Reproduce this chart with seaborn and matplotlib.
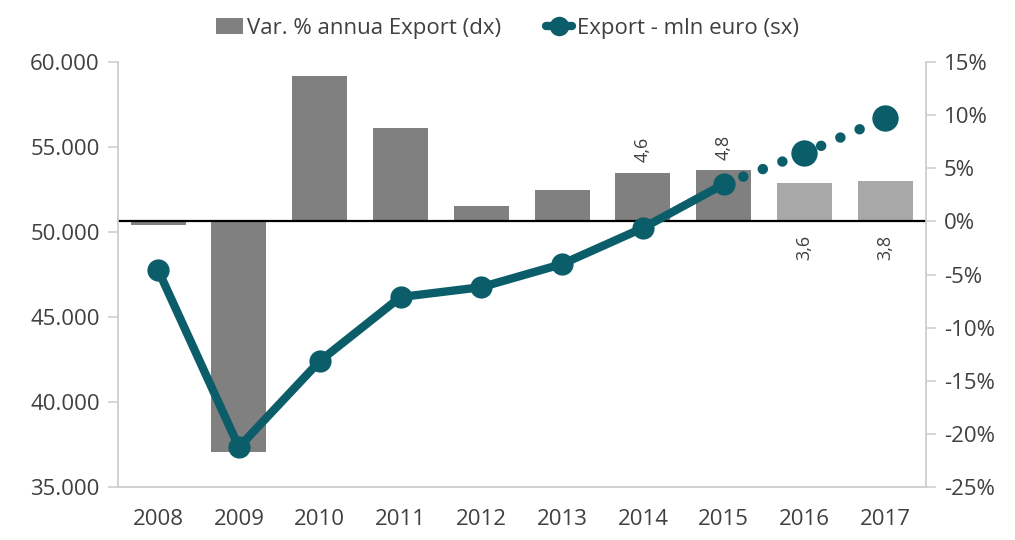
import numpy as np
import pandas as pd
import seaborn as sns
import matplotlib.pyplot as plt
from matplotlib.lines import Line2D
from matplotlib.patches import Patch
from matplotlib.ticker import FuncFormatter, FixedLocator

# data
years = ["2008", "2009", "2010", "2011", "2012", "2013", "2014", "2015", "2016", "2017"]
var_pct = [-0.3, -21.7, 13.7, 8.8, 1.5, 3.0, 4.6, 4.8, 3.6, 3.8]
export_mln = [47760, 37350, 42410, 46180, 46760, 48120, 50240, 52820, 54650, 56700]
is_forecast = [False] * 8 + [True] * 2
bar_labels = {6: "4,6", 7: "4,8", 8: "3,6", 9: "3,8"}

teal = "#0b5d69"
dark_gray = "#808080"
light_gray = "#a8a8a8"
txt = "#404040"

sns.set_theme(style="white")
plt.rcParams["font.family"] = ["Open Sans", "DejaVu Sans"]

df = pd.DataFrame({"year": years, "var": var_pct, "export": export_mln,
                   "forecast": is_forecast})
df["pos"] = np.arange(len(df))

fig = plt.figure(figsize=(10.15, 5.4), dpi=100)
ax = fig.add_axes([0.116, 0.098, 0.796, 0.787])
ax2 = ax.twinx()

# bars on right axis
bar_colors = [light_gray if f else dark_gray for f in is_forecast]
sns.barplot(data=df, x="year", y="var", hue="year", palette=bar_colors,
            width=0.68, legend=False, ax=ax2, saturation=1, edgecolor="none")
ax2.axhline(0, color="black", lw=1.6, zorder=3)
ax2.set_ylim(-25, 15)
ax2.yaxis.set_major_locator(FixedLocator(np.arange(-25, 16, 5)))
ax2.yaxis.set_major_formatter(FuncFormatter(lambda v, p: f"{v:.0f}%"))
ax2.set_ylabel("")
ax2.set_xlabel("")

for i, lab in bar_labels.items():
    v = var_pct[i]
    if is_forecast[i]:
        ax2.text(i, -1.3, lab, rotation=90, ha="center", va="top",
                 fontsize=13, color=txt)
    else:
        ax2.text(i, v + 1.0, lab, rotation=90, ha="center", va="bottom",
                 fontsize=13, color=txt)

# line on left axis, drawn above the bars
ax.set_zorder(ax2.get_zorder() + 1)
ax.patch.set_visible(False)
hist = df[~df["forecast"]]
fut = df[df["pos"] >= 7]
sns.lineplot(data=hist, x="pos", y="export", color=teal, lw=6,
             marker="o", markersize=16, markeredgewidth=0, ax=ax,
             solid_capstyle="round")
sns.lineplot(data=fut, x="pos", y="export", color=teal, lw=7.5,
             linestyle=(0, (0.01, 2.0)), dash_capstyle="round", ax=ax)
sns.scatterplot(data=df[df["forecast"]], x="pos", y="export", color=teal,
                s=360, linewidth=0, ax=ax, zorder=5)

ax.set_ylim(35000, 60000)
ax.set_xlim(-0.5, len(years) - 0.5)
ax.yaxis.set_major_locator(FixedLocator(np.arange(35000, 60001, 5000)))
ax.yaxis.set_major_formatter(FuncFormatter(lambda v, p: f"{v:,.0f}".replace(",", ".")))
ax.set_xlabel("")
ax.set_ylabel("")
ax.set_xticks(df["pos"])
ax.set_xticklabels(years)
ax.set_xticks(np.arange(-0.5, len(years)), minor=True)
ax2.set_xlim(-0.5, len(years) - 0.5)

spine_c = "#d0d0d0"
for a in (ax, ax2):
    a.spines["top"].set_visible(False)
    for s in ("left", "right", "bottom"):
        a.spines[s].set_color(spine_c)
        a.spines[s].set_linewidth(1.2)
ax.tick_params(axis="x", which="major", length=0, labelsize=16, colors=txt, pad=16)
ax.tick_params(axis="x", which="minor", length=7, color=spine_c, width=1.2, direction="out")
ax.tick_params(axis="y", length=7, color=spine_c, width=1.2, labelsize=16,
               labelcolor=txt, left=True, direction="out", pad=6)
ax2.tick_params(axis="y", length=7, color=spine_c, width=1.2, labelsize=16,
                labelcolor=txt, right=True, direction="out", pad=6)
ax2.tick_params(axis="x", length=0, labelbottom=False)

handles = [Patch(facecolor=dark_gray, edgecolor="none"),
           Line2D([0], [0], color=teal, lw=6, marker="o", markersize=13)]
fig.legend(handles, ["Var. % annua Export (dx)", "Export - mln euro (sx)"],
           loc="center", bbox_to_anchor=(0.5, 0.948), ncol=2, frameon=False,
           fontsize=16, handlelength=1.2, handletextpad=0.2, columnspacing=2.0,
           labelcolor=txt)

fig.savefig("out.png", dpi=100)
